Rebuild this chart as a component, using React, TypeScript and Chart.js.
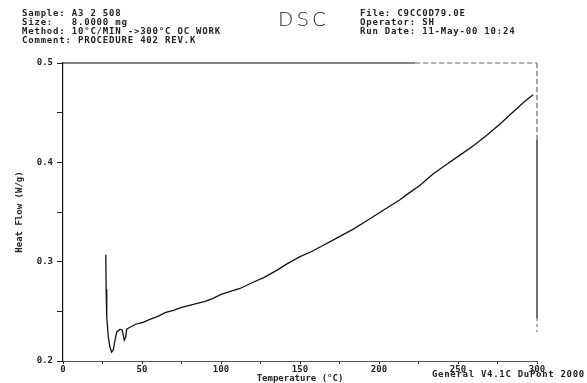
import React, { useEffect, useRef } from "react";
import { Chart, registerables } from "chart.js";

Chart.register(...registerables);

const temperature = [27.1, 27.3, 27.7, 28.7, 29.7, 30.8, 31.8, 32.9, 34.0, 36.1, 37.5, 38.8, 39.7, 40.3, 42.4, 46, 50.6, 55, 60, 65, 70, 75, 80, 85, 90, 95, 100, 106, 112, 120, 127, 135, 142, 150, 157, 163, 170, 177, 184, 191, 199, 207, 213, 218, 226, 234, 242, 251, 260, 268, 277, 285, 292, 297.5];
const heatFlow = [0.307, 0.272, 0.244, 0.224, 0.214, 0.209, 0.211, 0.221, 0.229, 0.232, 0.231, 0.221, 0.224, 0.232, 0.234, 0.237, 0.239, 0.242, 0.245, 0.249, 0.251, 0.254, 0.256, 0.258, 0.26, 0.263, 0.267, 0.27, 0.273, 0.279, 0.284, 0.291, 0.298, 0.305, 0.31, 0.315, 0.321, 0.327, 0.333, 0.34, 0.348, 0.356, 0.362, 0.368, 0.377, 0.388, 0.397, 0.407, 0.417, 0.427, 0.439, 0.451, 0.461, 0.468];

const xTickLabels = ["0", "50", "100", "150", "200", "250", "300"];
const yTickLabels = ["0.2", "0.3", "0.4", "0.5"];

const headerLeft = ["Sample: A3 2 508", "Size:   8.0000 mg", "Method: 10°C/MIN ->300°C OC WORK", "Comment: PROCEDURE 402 REV.K"];
const headerRight = ["File: C9CC0D79.0E", "Operator: SH", "Run Date: 11-May-00 10:24"];
const footerText = "General V4.1C DuPont 2000";

const MONO = "'DejaVu Sans Mono', monospace";

const framePlugin = {
  id: "frame",
  afterDraw(chart: any) {
    const { ctx, chartArea } = chart;
    const { left, right, top } = chartArea;
    ctx.save();
    ctx.strokeStyle = "#111";
    ctx.lineWidth = 1.2;
    ctx.beginPath();
    ctx.moveTo(left, top);
    ctx.lineTo(415, top);
    ctx.stroke();
    ctx.setLineDash([5, 3]);
    ctx.strokeStyle = "#666";
    ctx.beginPath();
    ctx.moveTo(415, top);
    ctx.lineTo(right, top);
    ctx.stroke();
    ctx.beginPath();
    ctx.moveTo(right, top);
    ctx.lineTo(right, 140);
    ctx.stroke();
    ctx.setLineDash([]);
    ctx.strokeStyle = "#111";
    ctx.beginPath();
    ctx.moveTo(right, 140);
    ctx.lineTo(right, 318);
    ctx.stroke();
    ctx.setLineDash([3, 3]);
    ctx.strokeStyle = "#777";
    ctx.beginPath();
    ctx.moveTo(right, 318);
    ctx.lineTo(right, 332);
    ctx.stroke();
    ctx.restore();
  },
};

export default function App() {
  const canvasRef = useRef<HTMLCanvasElement | null>(null);

  useEffect(() => {
    document.body.style.margin = "0";
    const canvas = canvasRef.current;
    if (!canvas) return;
    const data = temperature.map((t, i) => ({ x: t, y: heatFlow[i] }));
    const chart = new Chart(canvas, {
      type: "line",
      data: {
        datasets: [
          {
            data,
            borderColor: "#111",
            borderWidth: 1.3,
            pointRadius: 0,
            tension: 0,
            fill: false,
          },
        ],
      },
      options: {
        responsive: false,
        animation: false,
        layout: { padding: { top: 63, right: 50, left: 0, bottom: 0 } },
        plugins: { legend: { display: false }, tooltip: { enabled: false } },
        scales: {
          x: {
            type: "linear",
            min: 0,
            max: 300,
            afterFit: (s: any) => {
              s.height = 22;
            },
            border: { display: true, color: "#555", width: 1, dash: [4, 3] },
            grid: { drawOnChartArea: false, drawTicks: true, tickLength: 3, color: "#222" },
            ticks: {
              stepSize: 25,
              padding: 0,
              color: "#222",
              font: { family: MONO, size: 9, weight: "bold" },
              maxRotation: 0,
              autoSkip: false,
              callback: (v: any) => {
                const s = String(v);
                return xTickLabels.includes(s) ? s : "";
              },
            },
            title: {
              display: true,
              text: "Temperature (°C)",
              color: "#222",
              font: { family: MONO, size: 9, weight: "bold", lineHeight: 1 },
              padding: { top: 0, bottom: 0 },
            },
          },
          y: {
            type: "linear",
            min: 0.2,
            max: 0.5,
            afterFit: (s: any) => {
              s.width = 63;
            },
            border: { display: true, color: "#111", width: 1.2 },
            grid: { drawOnChartArea: false, drawTicks: true, tickLength: 6, color: "#222" },
            ticks: {
              stepSize: 0.05,
              padding: 4,
              color: "#222",
              font: { family: MONO, size: 9, weight: "bold" },
              autoSkip: false,
              callback: (v: any) => {
                const s = (Math.round(Number(v) * 100) / 100).toString();
                return yTickLabels.includes(s) ? s : "";
              },
            },
            title: {
              display: true,
              text: "Heat Flow (W/g)",
              color: "#222",
              font: { family: MONO, size: 9, weight: "bold", lineHeight: 1 },
              padding: { top: 15, bottom: 0 },
            },
          },
        },
      },
      plugins: [framePlugin],
    } as any);
    return () => chart.destroy();
  }, []);

  const textStyle: React.CSSProperties = {
    position: "absolute",
    fontFamily: MONO,
    fontSize: "9px",
    fontWeight: "bold",
    letterSpacing: "0.8px",
    lineHeight: "9px",
    whiteSpace: "pre",
    color: "#222",
  };

  return (
    <div style={{ position: "relative", width: 587, height: 383, background: "#fff", overflow: "hidden" }}>
      <canvas ref={canvasRef} width={587} height={383} style={{ display: "block" }} />
      <div style={{ ...textStyle, left: 22, top: 9 }}>
        {headerLeft.map((l, i) => (
          <div key={i}>{l}</div>
        ))}
      </div>
      <div
        style={{
          position: "absolute",
          left: 278,
          top: 7,
          fontFamily: "'DejaVu Sans', sans-serif",
          fontSize: "20px",
          fontWeight: 200,
          letterSpacing: "3px",
          lineHeight: "normal",
          color: "#222",
        }}
      >
        DSC
      </div>
      <div style={{ ...textStyle, left: 360, top: 9 }}>
        {headerRight.map((l, i) => (
          <div key={i}>{l}</div>
        ))}
      </div>
      <div style={{ ...textStyle, left: 432, top: 370, letterSpacing: "0.7px" }}>{footerText}</div>
    </div>
  );
}
